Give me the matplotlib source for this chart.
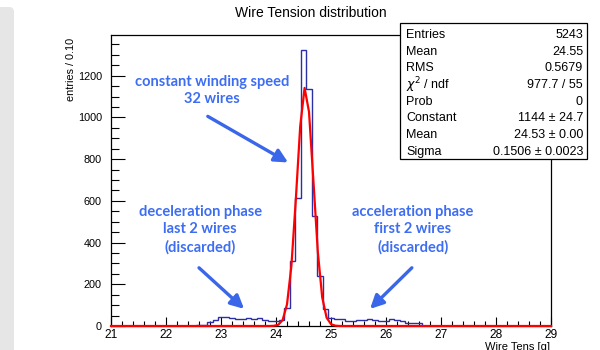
import numpy as np
import matplotlib.pyplot as plt
from matplotlib.patches import FancyBboxPatch, Rectangle
from matplotlib.ticker import MultipleLocator

plt.rcParams['font.family'] = ['Liberation Sans', 'DejaVu Sans']

# histogram: 0.1 wide bins, first filled bin starts at 22.55
first_edge = 22.55
bin_width = 0.1
counts = [4, 7, 17, 29, 45, 41, 37, 34, 34, 37, 34, 40, 29, 26, 26,
          30, 85, 312, 614, 1322, 1138, 525, 242, 80, 37,
          35, 33, 24, 25, 29, 28, 33, 30, 24, 22, 33, 30, 22, 14, 12, 15]

# gaussian fit result (from the stats box)
fit_const = 1144
fit_mean = 24.53
fit_sigma = 0.1506

stats_rows = [
    ("Entries", "5243"),
    ("Mean", "24.55"),
    ("RMS", "0.5679"),
    (r"$\chi^{2}$ / ndf", "977.7 / 55"),
    ("Prob", "0"),
    ("Constant", "1144 \u00b1 24.7"),
    ("Mean", "24.53 \u00b1 0.00"),
    ("Sigma", "0.1506 \u00b1 0.0023"),
]

blue_txt = '#3d6df2'

fig = plt.figure(figsize=(6, 3.5), dpi=100)

# grey side panel on the left
fig.patches.append(FancyBboxPatch((-20, -20), 34, 363,
                                  boxstyle='round,pad=0,rounding_size=5',
                                  transform=None, facecolor='#e6e6e6',
                                  edgecolor='none', zorder=0))

ax = fig.add_axes([111 / 600, 24 / 350, 440 / 600, 291 / 350])

# histogram padded with empty bins over the whole axis
n_lead = int(round((first_edge - 20.95) / bin_width))
full = [0] * n_lead + counts
full = full + [0] * (81 - len(full))
edges = 20.95 + bin_width * np.arange(len(full) + 1)
ax.stairs(full, edges, color='#2a2fa8', lw=1.0, zorder=2)

# fit curve, drawn with 100 segments like ROOT
xf = np.linspace(21, 29, 101)
ax.plot(xf, fit_const * np.exp(-0.5 * ((xf - fit_mean) / fit_sigma) ** 2),
        color='#ff0000', lw=1.6, zorder=3, clip_on=False)

ax.set_xlim(21, 29)
ax.set_ylim(0, 1395)
ax.xaxis.set_major_locator(MultipleLocator(1))
ax.xaxis.set_minor_locator(MultipleLocator(0.2))
ax.yaxis.set_major_locator(MultipleLocator(200))
ax.yaxis.set_minor_locator(MultipleLocator(50))
ax.tick_params(axis='x', which='both', direction='in', top=False,
               labelsize=8.6, pad=2.5, width=0.8)
ax.tick_params(axis='x', which='major', length=6.5)
ax.tick_params(axis='x', which='minor', length=3.3)
ax.tick_params(axis='y', which='both', direction='in', right=False,
               labelsize=7.8, pad=6.5, width=0.8)
ax.tick_params(axis='y', which='major', length=10)
ax.tick_params(axis='y', which='minor', length=5.5)
for s in ax.spines.values():
    s.set_linewidth(0.9)

fig.text(311 / 600, 1 - 13 / 350, "Wire Tension distribution",
         ha='center', va='center', fontsize=10)
fig.text(71 / 600, 1 - 38 / 350, "entries / 0.10", rotation=90,
         ha='center', va='top', fontsize=7.8)
fig.text(550 / 600, 1 - 346.5 / 350, "Wire Tens [g]",
         ha='right', va='center', fontsize=8)

# annotations
ann = dict(ha='center', va='center', color=blue_txt, fontsize=10.5,
           fontweight='bold', family=['Lato', 'DejaVu Sans'],
           linespacing=1.3)
arrow = dict(arrowstyle='-|>,head_length=0.8,head_width=0.4',
             color='#3a66ea', lw=2.4, shrinkA=0, shrinkB=0)
ax.text(22.84, 1130, "constant winding speed\n32 wires", **ann)
ax.annotate("", xy=(24.22, 784), xytext=(22.76, 1005), arrowprops=arrow)
ax.text(22.62, 462, "deceleration phase\nlast 2 wires\n(discarded)", **ann)
ax.annotate("", xy=(23.42, 82), xytext=(22.6, 279), arrowprops=arrow)
ax.text(26.49, 462, "acceleration phase\nfirst 2 wires\n(discarded)", **ann)
ax.annotate("", xy=(25.71, 82), xytext=(26.47, 279), arrowprops=arrow)

# stats box
bx0, bx1, by0, by1 = 400 / 600, 587 / 600, 1 - 159 / 350, 1 - 23 / 350
fig.patches.append(Rectangle((bx0, by0), bx1 - bx0, by1 - by0,
                             transform=fig.transFigure, facecolor='white',
                             edgecolor='black', lw=0.9, zorder=5))
for i, (name, val) in enumerate(stats_rows):
    yy = 1 - (35 + 16.7 * i) / 350
    fig.text(406 / 600, yy, name, ha='left', va='center', fontsize=9, zorder=6)
    fig.text(583 / 600, yy, val, ha='right', va='center', fontsize=9, zorder=6)

fig.savefig('out.png', dpi=100)
